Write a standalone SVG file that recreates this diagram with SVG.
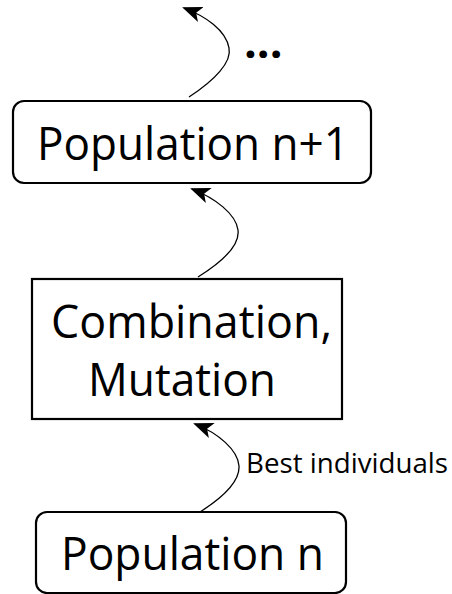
<svg xmlns="http://www.w3.org/2000/svg" width="452" height="594" viewBox="0 0 452 594">
<style>
.box{fill:#fff;stroke:#000;stroke-width:2.2}
.t{font-family:"Open Sans","DejaVu Sans",sans-serif;font-size:45px;fill:#000}
.lbl{font-family:"Open Sans","DejaVu Sans",sans-serif;font-size:26.5px;fill:#000}
.c{fill:none;stroke:#000;stroke-width:1.3}
</style>
<defs>
<marker id="ah" viewBox="0 0 20 16" refX="18" refY="8" markerWidth="20" markerHeight="16" markerUnits="userSpaceOnUse" orient="auto">
<path d="M0,0 L20,8 L0,16 L5,8 Z" fill="#000"/>
</marker>
</defs>
<g id="connectors">
<path class="c" d="M189,97 C215,80 232,62 229,48 C226,30 205,16 184,8" marker-end="url(#ah)"/>
<path class="c" d="M198,277 C222,262 240,245 238,230 C236,214 215,198 192,189" marker-end="url(#ah)"/>
<path class="c" d="M200,512 C222,498 240,482 239,466 C238,450 218,433 195,424" marker-end="url(#ah)"/>
<text class="lbl" x="246" y="473" textLength="202" lengthAdjust="spacingAndGlyphs">Best individuals</text>
<text class="t" x="244" y="58" font-weight="bold" font-size="30">...</text>
</g>
<g id="pop-n1">
<rect class="box" x="13" y="101" width="358" height="82" rx="11"/>
<text class="t" x="37" y="160" textLength="312" lengthAdjust="spacingAndGlyphs">Population n+1</text>
</g>
<g id="combination">
<rect class="box" x="32" y="279" width="310" height="140"/>
<text class="t" x="51" y="338" textLength="281" lengthAdjust="spacingAndGlyphs">Combination,</text>
<text class="t" x="88" y="396" textLength="188" lengthAdjust="spacingAndGlyphs">Mutation</text>
</g>
<g id="pop-n">
<rect class="box" x="36" y="512" width="310" height="81" rx="11"/>
<text class="t" x="61" y="570" textLength="263" lengthAdjust="spacingAndGlyphs">Population n</text>
</g>
</svg>
